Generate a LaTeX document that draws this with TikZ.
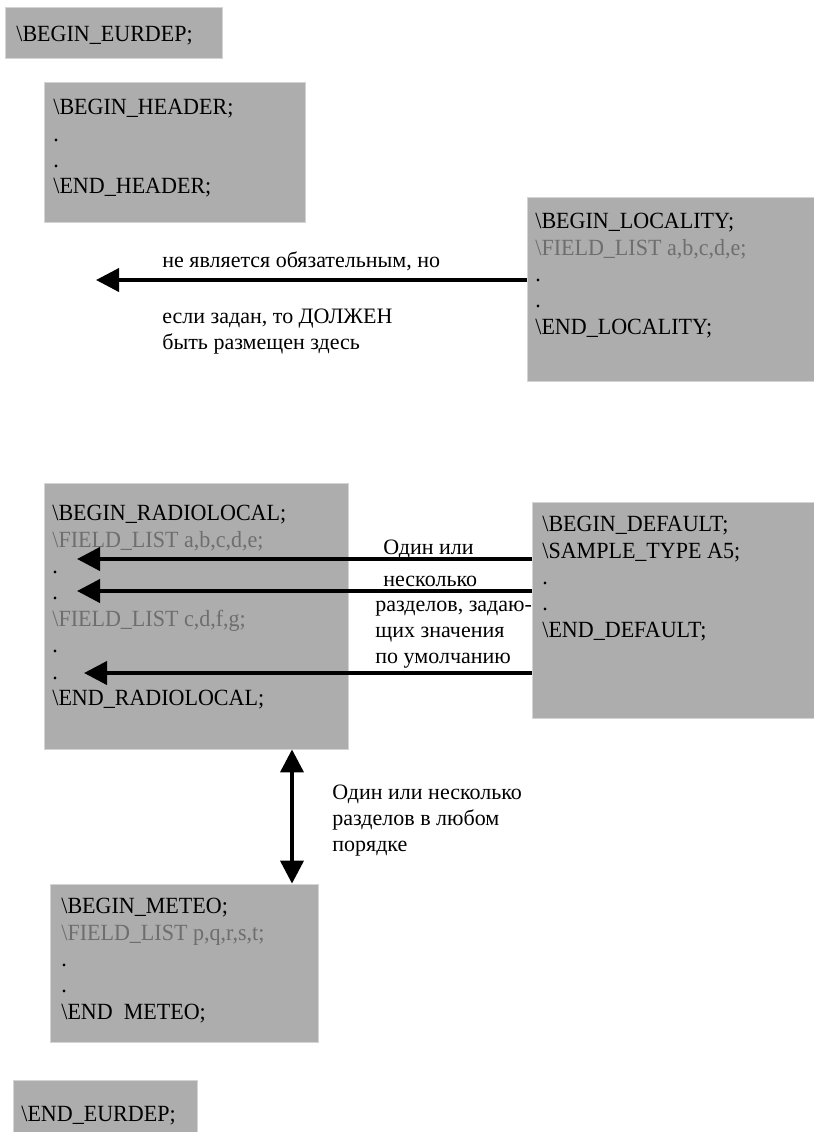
\documentclass[tikz,border=0pt]{standalone}
\usepackage{fontspec}
\setmainfont{Liberation Serif}
\newfontfamily\boxfont[FakeStretch=0.95]{Liberation Serif}
\usetikzlibrary{arrows.meta}
\definecolor{boxgray}{HTML}{ADADAD}
\definecolor{boxedge}{HTML}{D4D4D4}
\definecolor{fieldgray}{HTML}{6E6E6E}
\newcommand{\bsl}{\textbackslash}

\begin{document}
\begin{tikzpicture}
  [x=0.5pt,y=-0.5pt,
   grayBox/.style={fill=boxgray,draw=boxedge,line width=0.4pt,inner sep=0pt},
   boxText/.style={anchor=north west,inner sep=0pt,align=left,
     font=\boxfont\fontsize{11.6}{13.2}\selectfont,execute at begin node=\strut},
   noteText/.style={anchor=north west,inner sep=0pt,align=left,
     font=\fontsize{11}{13}\selectfont,execute at begin node=\strut},
   bigArrow/.style={line width=2pt,-{Triangle[length=11.5pt,width=11.5pt]}},
   bothArrow/.style={line width=2pt,
     {Triangle[length=11.5pt,width=11.5pt]}-{Triangle[length=11.5pt,width=11.5pt]}}]

  \useasboundingbox (0,0) rectangle (814,1132);

  \node[grayBox,minimum width=108.5pt,minimum height=25.5pt] (beginE)   at (113.5,32.5) {};
  \node[grayBox,minimum width=130.5pt,minimum height=70pt]   (header)   at (174.5,152)  {};
  \node[grayBox,minimum width=143.5pt,minimum height=92pt]   (locality) at (670.5,289)  {};
  \node[grayBox,minimum width=152pt,minimum height=133pt]    (radio)    at (196,616)    {};
  \node[grayBox,minimum width=141pt,minimum height=108pt]    (default)  at (673,610)    {};
  \node[grayBox,minimum width=134pt,minimum height=79pt]     (meteo)    at (184,963)    {};
  \node[grayBox,minimum width=92pt,minimum height=27pt]      (endE)     at (105,1107)   {};

  \node[boxText] (beginET) at (16,23) {\bsl BEGIN\_EURDEP;};
  \node[boxText] (headerT) at (53,99)
    {\bsl BEGIN\_HEADER;\\.\\.\\\bsl END\_HEADER;};
  \node[boxText] (localityT) at (535,213)
    {\bsl BEGIN\_LOCALITY;\\\textcolor{fieldgray}{\bsl FIELD\_LIST a,b,c,d,e;}\\.\\.\\\bsl END\_LOCALITY;};
  \node[boxText] (radioT) at (52,505)
    {\bsl BEGIN\_RADIOLOCAL;\\\textcolor{fieldgray}{\bsl FIELD\_LIST a,b,c,d,e;}\\.\\.\\
     \textcolor{fieldgray}{\bsl FIELD\_LIST c,d,f,g;}\\.\\.\\\bsl END\_RADIOLOCAL;};
  \node[boxText] (defaultT) at (542,516)
    {\bsl BEGIN\_DEFAULT;\\\bsl SAMPLE\_TYPE A5;\\.\\.\\\bsl END\_DEFAULT;};
  \node[boxText] (meteoT) at (61,898)
    {\bsl BEGIN\_METEO;\\\textcolor{fieldgray}{\bsl FIELD\_LIST p,q,r,s,t;}\\.\\.\\\bsl END\ \ METEO;};
  \node[boxText] (endET) at (21,1103) {\bsl END\_EURDEP;};

  \node[noteText] (optA) at (162,249)   {не является обязательным, но};
  \node[noteText] (optB) at (162,309)   {если задан, то ДОЛЖЕН\\быть размещен здесь};
  \node[noteText] (defA) at (383,536)   {Один или};
  \node[noteText] (defB) at (383,568)   {несколько};
  \node[noteText] (defC) at (375,601)   {разделов, задаю-\\щих значения\\по умолчанию};
  \node[noteText] (anyT) at (332,785)   {Один или несколько\\разделов в любом\\порядке};

  \coordinate (locTip) at (96,280);
  \coordinate (tipA)   at (77,559);
  \coordinate (tipB)   at (77,591);
  \coordinate (tipC)   at (84,673);
  \coordinate (vx)     at (292,0);

  \draw [bigArrow] (locality.west |- locTip) -- (locTip);
  \draw [bigArrow] (default.west |- tipA) -- (tipA);
  \draw [bigArrow] (default.west |- tipB) -- (tipB);
  \draw [bigArrow] (default.west |- tipC) -- (tipC);

  \draw [bothArrow] (radio.south -| vx) -- (meteo.north -| vx);
\end{tikzpicture}
\end{document}
